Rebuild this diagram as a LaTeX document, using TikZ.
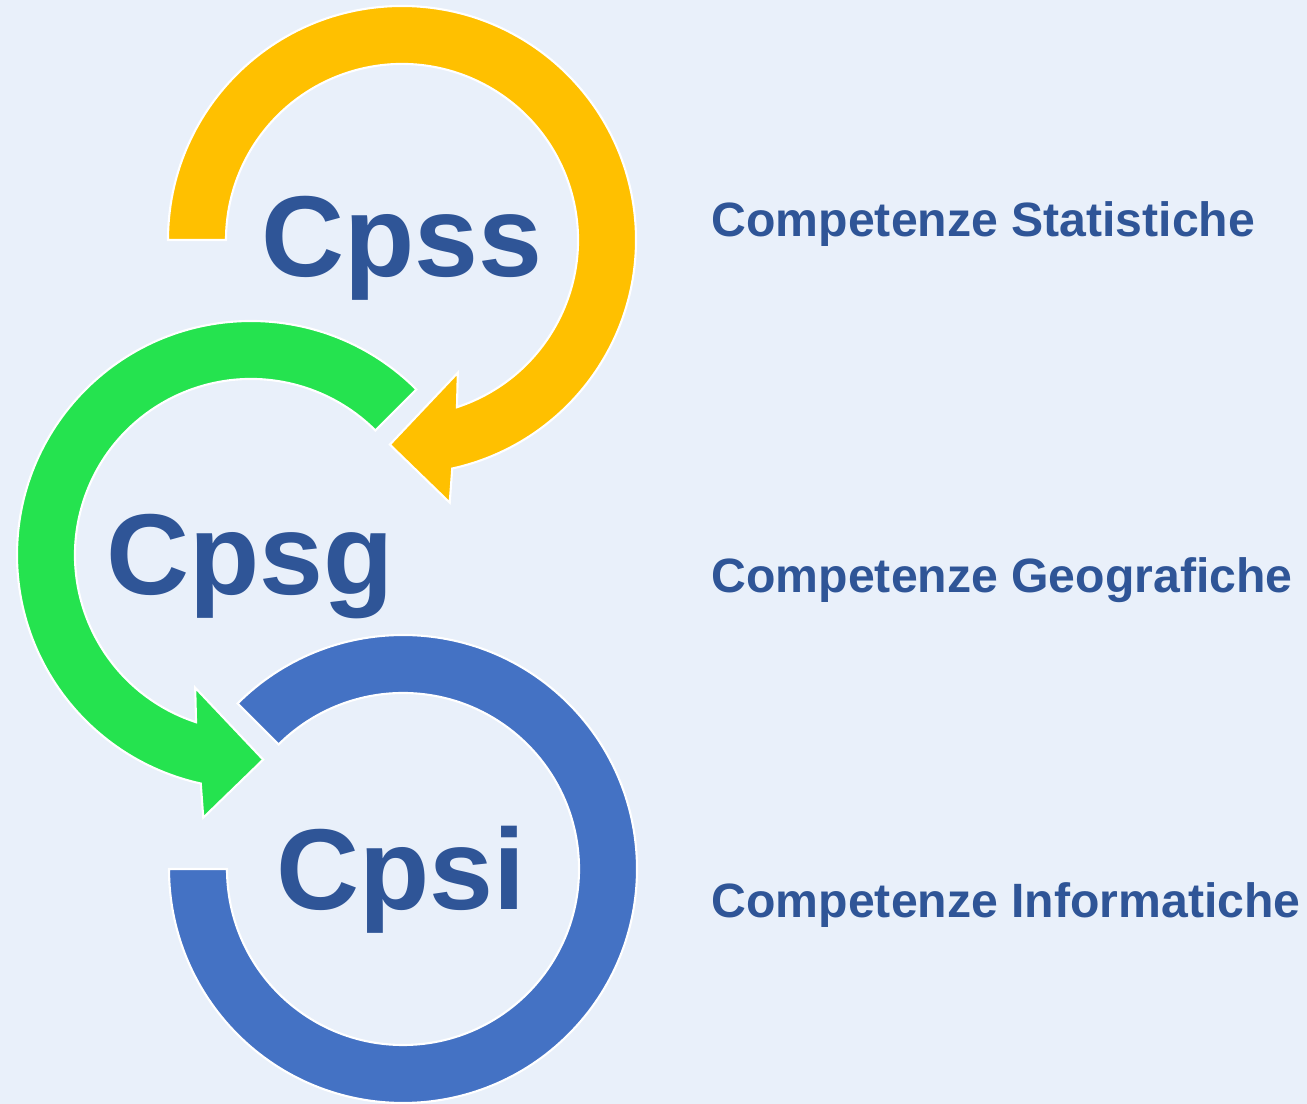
\documentclass[tikz,border=0pt]{standalone}
\usepackage{fontspec}
\setmainfont{Liberation Sans}
\usetikzlibrary{positioning}
\definecolor{bgblue}{RGB}{233,240,250}
\definecolor{ringyellow}{RGB}{255,192,0}
\definecolor{ringgreen}{RGB}{37,227,79}
\definecolor{ringblue}{RGB}{68,114,196}
\definecolor{textblue}{RGB}{47,85,151}

\begin{document}
\begin{tikzpicture}
	% style
	[x=0.01cm, y=0.01cm,
	ring/.style={draw=white, line width=0.6pt, line join=miter},
	big_label/.style={anchor=base, inner sep=0pt, text=textblue, font=\bfseries\fontsize{32.7}{36}\selectfont},
	side_label/.style={anchor=base west, inner sep=0pt, text=textblue, font=\bfseries\fontsize{13.7}{16}\selectfont}]

	% background
	\fill[bgblue] (0,0) rectangle (1307,1104);
	\useasboundingbox (0,0) rectangle (1307,1104);

	% centres
	\coordinate (c_s) at (402,864);
	\coordinate (c_g) at (251,549);
	\coordinate (c_i) at (403,235);

	% ring Cpsi
	\begin{scope}[shift={(c_i)}]
		\draw[ring, fill=ringblue] (135:234) arc[start angle=135, end angle=-180, radius=234]
			-- (-180:176) arc[start angle=-180, end angle=135, radius=176] -- cycle;
	\end{scope}

	% ring Cpsg
	\begin{scope}[shift={(c_g)}]
		\draw[ring, fill=ringgreen] (45:234) arc[start angle=45, end angle=257.6, radius=234]
			-- (259.7:267) -- (273.4:205) -- (247.2:144) -- (251.8:176)
			arc[start angle=251.8, end angle=45, radius=176] -- cycle;
	\end{scope}

	% ring Cpss
	\begin{scope}[shift={(c_s)}]
		\draw[ring, fill=ringyellow] (180:234) arc[start angle=180, end angle=-77.6, radius=234]
			-- (-79.7:267) -- (-93.4:205) -- (-67.2:144) -- (-71.8:176)
			arc[start angle=-71.8, end angle=180, radius=176] -- cycle;
	\end{scope}

	% labels
	\node [big_label] (cpss) at (402,827) {Cpss};
	\node [big_label] (cpsg) at (250,509) {Cpsg};
	\node [big_label] (cpsi) at (401,194) {Cpsi};

	\node [side_label] (stat) at (711,867) {Competenze Statistiche};
	\node [side_label] (geo) at (711,511) {Competenze Geografiche};
	\node [side_label] (info) at (711,186) {Competenze Informatiche};
\end{tikzpicture}
\end{document}
